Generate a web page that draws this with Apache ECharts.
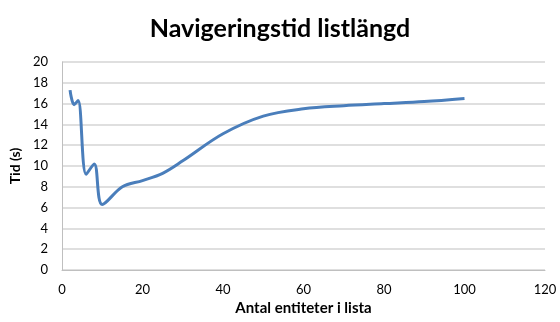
<!DOCTYPE html>
<html>
<head>
<meta charset="utf-8">
<script src="https://cdn.jsdelivr.net/npm/echarts@6/dist/echarts.min.js"></script>
<style>
  html, body { margin: 0; padding: 0; background: #fff; }
  #chart { width: 560px; height: 322px; }
</style>
</head>
<body>
<div id="chart"></div>
<script>
// Navigation time as a function of list length
const titleText = 'Navigeringstid listlängd';
const xName = 'Antal entiteter i lista';
const yName = 'Tid (s)';
const listLength = [2, 3, 4, 6, 8, 10, 15, 20, 25, 30, 40, 50, 60, 70, 80, 90, 100];
const timeSeconds = [17.3, 15.9, 16.3, 9.2, 10.2, 6.3, 8.0, 8.6, 9.3, 10.5, 13.1, 14.8, 15.5, 15.8, 16.0, 16.2, 16.5];

const points = listLength.map((x, i) => [x, timeSeconds[i]]);
const font = 'Lato, "Open Sans", sans-serif';

const chart = echarts.init(document.getElementById('chart'), null, { renderer: 'canvas' });
chart.setOption({
  animation: false,
  backgroundColor: '#ffffff',
  title: {
    text: titleText,
    left: 'center',
    top: 11,
    textStyle: { fontFamily: font, fontSize: 25, fontWeight: 'bold', color: '#000' }
  },
  grid: { left: 62, right: 15, top: 62, bottom: 52 },
  xAxis: {
    type: 'value',
    min: 0, max: 120, interval: 20,
    name: xName,
    nameLocation: 'middle',
    nameGap: 30,
    nameTextStyle: { fontFamily: font, fontSize: 15, fontWeight: 'bold', color: '#000' },
    axisLine: { show: true, lineStyle: { color: '#bfbfbf', width: 1 } },
    axisTick: { show: false },
    splitLine: { show: false },
    axisLabel: { fontFamily: font, fontSize: 13, color: '#000', margin: 13 }
  },
  yAxis: {
    type: 'value',
    min: 0, max: 20, interval: 2,
    name: yName,
    nameLocation: 'middle',
    nameGap: 37,
    nameTextStyle: { fontFamily: font, fontSize: 14, fontWeight: 'bold', color: '#000' },
    axisLine: { show: true, lineStyle: { color: '#bfbfbf', width: 1 } },
    axisTick: { show: false },
    splitLine: { show: true, lineStyle: { color: '#d4d4d4', width: 1.5 } },
    axisLabel: { fontFamily: font, fontSize: 13, color: '#000', margin: 14 }
  },
  series: [{
    type: 'line',
    data: points,
    smooth: 0.35,
    showSymbol: false,
    lineStyle: { color: '#4a7ebb', width: 3 }
  }]
});
</script>
</body>
</html>
